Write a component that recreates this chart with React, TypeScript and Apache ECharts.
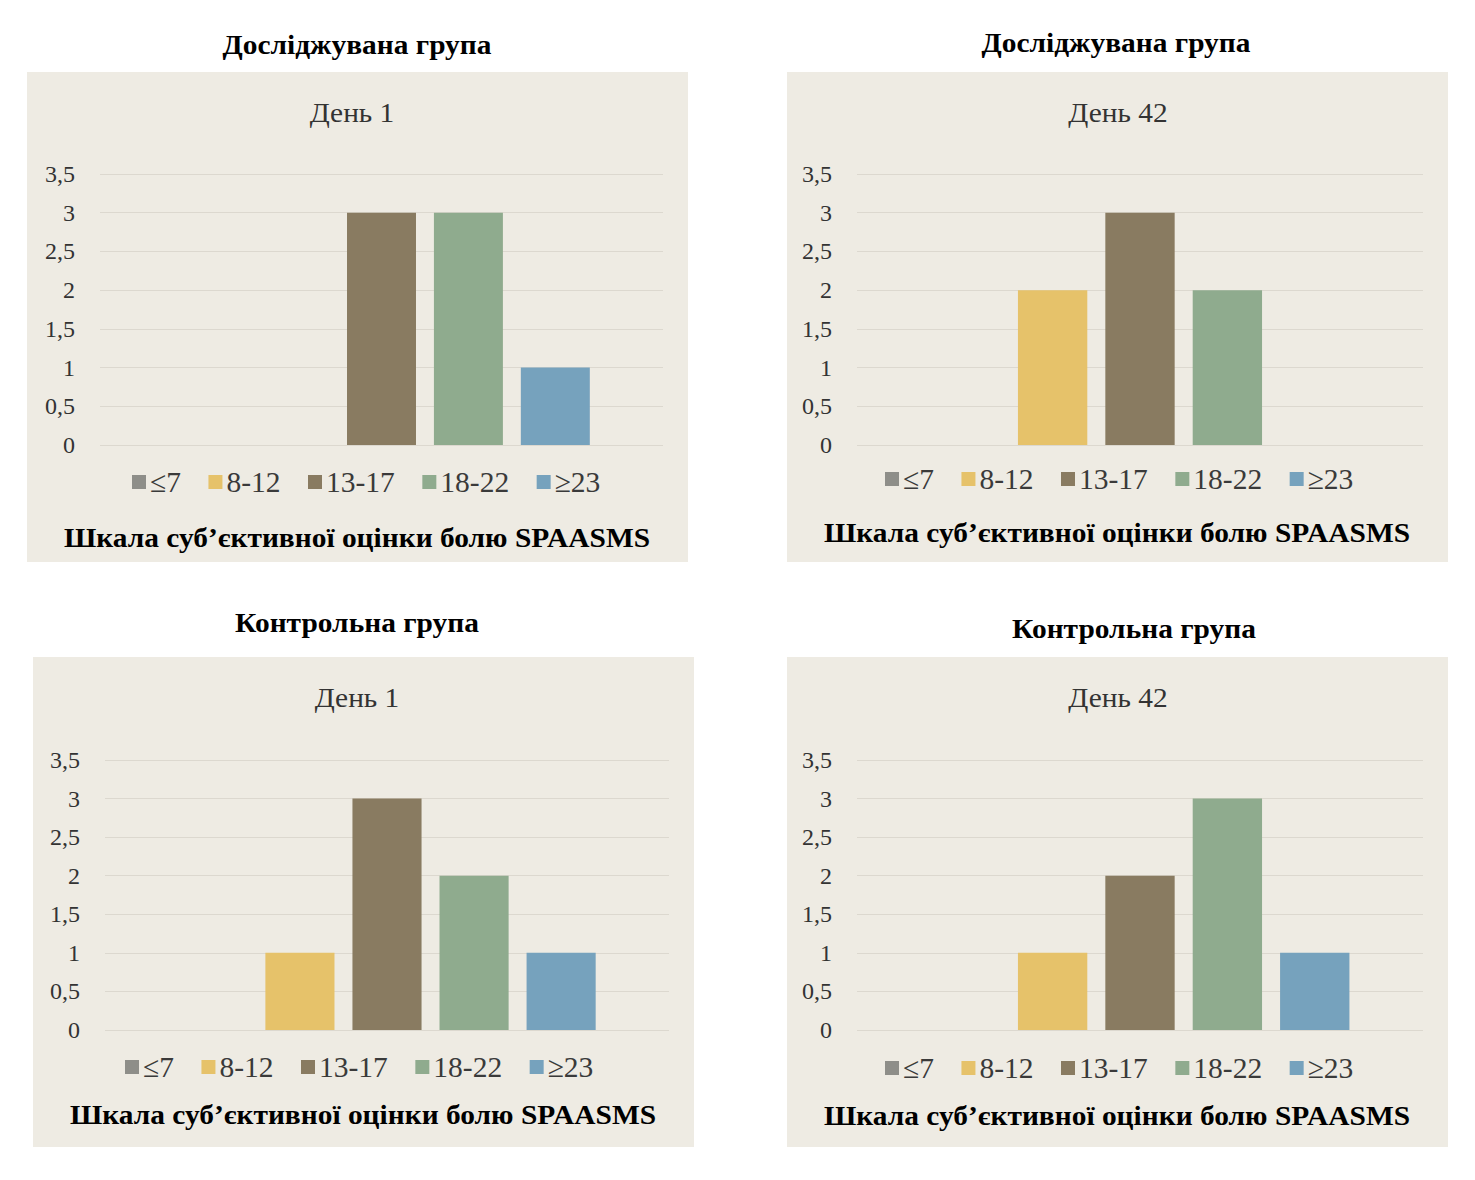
import React, { useEffect, useRef } from "react";
import * as echarts from "echarts";

const categories = ["SPAASMS"];
const seriesNames = ["≤7", "8-12", "13-17", "18-22", "≥23"];
const seriesColors = ["#8e8e89", "#e6c26a", "#897b61", "#8fab8e", "#76a2bd"];
const yTicks = { min: 0, max: 3.5, interval: 0.5 };

const panelGroupTitles = ["Досліджувана група", "Досліджувана група", "Контрольна група", "Контрольна група"];
const panelDayTitles = ["День 1", "День 42", "День 1", "День 42"];
const axisTitle = "Шкала суб’єктивної оцінки болю SPAASMS";

const valuesP1 = [0, 0, 3, 3, 1];
const valuesP2 = [0, 2, 3, 2, 0];
const valuesP3 = [0, 1, 3, 2, 1];
const valuesP4 = [0, 1, 2, 3, 1];
const panelValues = [valuesP1, valuesP2, valuesP3, valuesP4];

// layout (pixels)
const panels = [
  { bg: [27, 72, 661, 490], outerY: 45, outerX: 357, dayX: 352, dayY: 112, grid: [100, 174, 563, 271], legendX: 132, legendY: 482, nameX: 357, nameY: 538 },
  { bg: [787, 72, 661, 490], outerY: 43, outerX: 1116, dayX: 1118, dayY: 112, grid: [857, 174, 566, 271], legendX: 885, legendY: 479, nameX: 1117, nameY: 533 },
  { bg: [33, 657, 661, 490], outerY: 623, outerX: 357, dayX: 357, dayY: 697, grid: [105, 760, 564, 270], legendX: 125, legendY: 1067, nameX: 363, nameY: 1115 },
  { bg: [787, 657, 661, 490], outerY: 629, outerX: 1134, dayX: 1118, dayY: 697, grid: [857, 760, 566, 270], legendX: 885, legendY: 1068, nameX: 1117, nameY: 1116 },
];

const FONT = "Liberation Serif, serif";

export default function App() {
  const ref = useRef<HTMLDivElement>(null);

  useEffect(() => {
    if (!ref.current) return;
    const chart = echarts.init(ref.current, undefined, { renderer: "svg" });

    const grids: any[] = [];
    const xAxes: any[] = [];
    const yAxes: any[] = [];
    const series: any[] = [];
    const legends: any[] = [];
    const graphics: any[] = [];

    panels.forEach((p, i) => {
      grids.push({ left: p.grid[0], top: p.grid[1], width: p.grid[2], height: p.grid[3], containLabel: false });
      xAxes.push({
        type: "category",
        gridIndex: i,
        data: categories,
        axisLine: { show: false },
        axisTick: { show: false },
        axisLabel: { show: false },
      });
      yAxes.push({
        type: "value",
        gridIndex: i,
        min: yTicks.min,
        max: yTicks.max,
        interval: yTicks.interval,
        axisLine: { show: false },
        axisTick: { show: false },
        axisLabel: {
          fontFamily: FONT,
          fontSize: 24,
          color: "#333333",
          margin: 25,
          formatter: (v: number) => String(v).replace(".", ","),
        },
        splitLine: { lineStyle: { color: "#dcd8cf", width: 1 } },
      });
      seriesNames.forEach((name, k) => {
        series.push({
          type: "bar",
          name,
          xAxisIndex: i,
          yAxisIndex: i,
          data: [panelValues[i][k]],
          itemStyle: { color: seriesColors[k] },
          barGap: "26%",
          barCategoryGap: "26%",
        });
      });
      legends.push({
        data: seriesNames,
        left: p.legendX,
        top: p.legendY - 15,
        padding: 0,
        icon: "rect",
        itemWidth: 14,
        itemHeight: 14,
        itemGap: 27.5,
        selectedMode: false,
        textStyle: { fontFamily: FONT, fontSize: 29.5, color: "#3a3a3a", padding: [0, 0, 0, -1] },
      });
      graphics.push(
        {
          type: "text",
          x: p.outerX,
          y: p.outerY,
          scaleX: 1.09,
          style: { text: panelGroupTitles[i], fontFamily: FONT, fontSize: 27, fontWeight: "bold", fill: "#000", align: "center", verticalAlign: "middle" },
        },
        {
          type: "text",
          x: p.dayX,
          y: p.dayY,
          scaleX: 1.05,
          style: { text: panelDayTitles[i], fontFamily: FONT, fontSize: 28, fill: "#333", align: "center", verticalAlign: "middle" },
        },
        {
          type: "text",
          x: p.nameX,
          y: p.nameY,
          scaleX: 1.07,
          style: { text: axisTitle, fontFamily: FONT, fontSize: 27.5, fontWeight: "bold", fill: "#000", align: "center", verticalAlign: "middle" },
        }
      );
    });

    chart.setOption({
      animation: false,
      backgroundColor: "transparent",
      grid: grids,
      xAxis: xAxes,
      yAxis: yAxes,
      series,
      legend: legends,
      graphic: graphics,
    });

    return () => chart.dispose();
  }, []);

  return (
    <div style={{ position: "absolute", left: 0, top: 0, width: 1475, height: 1180, background: "#ffffff" }}>
      {panels.map((p, i) => (
        <div
          key={i}
          style={{ position: "absolute", left: p.bg[0], top: p.bg[1], width: p.bg[2], height: p.bg[3], background: "#eeebe3" }}
        />
      ))}
      <div ref={ref} style={{ position: "absolute", left: 0, top: 0, width: 1475, height: 1180 }} />
    </div>
  );
}
